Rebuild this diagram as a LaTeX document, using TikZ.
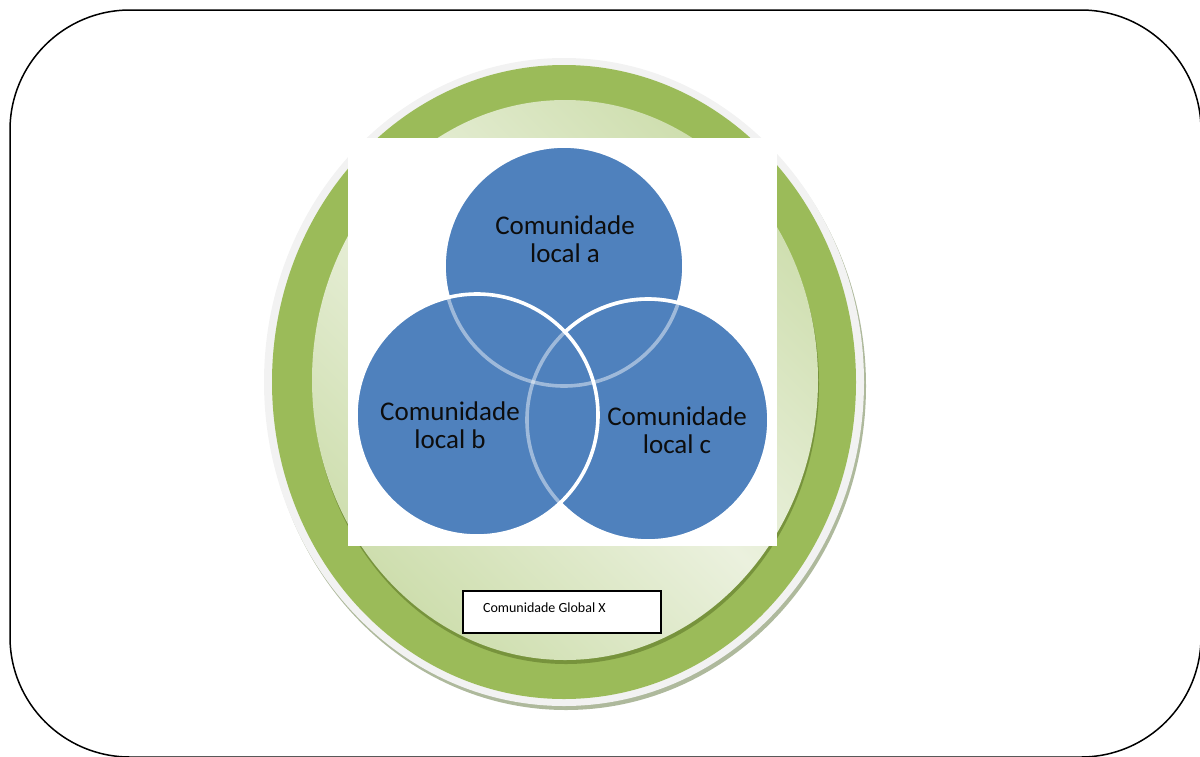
\documentclass[tikz,border=0pt]{standalone}
\usepackage{fontspec}
\setmainfont{Carlito}
\usepackage{tikz}

\definecolor{vennblue}{HTML}{4F81BD}
\definecolor{ringgreen}{HTML}{9BBB59}
\definecolor{rimgray}{HTML}{F2F2F2}
\definecolor{rimshadow}{HTML}{AEB99C}
\definecolor{edgegreen}{HTML}{77933C}
\definecolor{innerlight}{HTML}{EBF1DE}
\definecolor{innerdark}{HTML}{CEDEAE}

\tikzset{
  venn/.style={fill=vennblue,draw=white,line width=1.8pt},
  vennline/.style={draw=white,draw opacity=0.45,line width=1.8pt},
  vennlabel/.style={align=center,font=\fontsize{13.5}{14}\selectfont,text=black!95},
  globalbox/.style={draw,line width=0.8pt,fill=white,minimum width=99pt,minimum height=21pt,anchor=north west}
}

\begin{document}
\begin{tikzpicture}[x=0.5pt,y=-0.5pt]
  \useasboundingbox (0,0) rectangle (1200,756);
  \draw[line width=0.75pt,rounded corners=60pt] (10,10) rectangle (1201,757);
  % ring
  \fill[rimshadow] (566,386) ellipse [x radius=150pt,y radius=162pt];
  \fill[rimgray] (564,382) ellipse [x radius=150pt,y radius=162pt];
  \fill[ringgreen] (564,382) ellipse [x radius=146pt,y radius=158.5pt];
  \fill[edgegreen] (566,384) ellipse [x radius=126.5pt,y radius=140pt];
  \shade[top color=innerdark,bottom color=innerdark,middle color=innerlight,shading angle=-45]
    (565,380) ellipse [x radius=126.5pt,y radius=140pt];
  % venn
  \fill[white] (348,138) rectangle (777,546);
  \path[venn] (564,266) circle [radius=60pt];
  \path[venn] (648,420) circle [radius=60.5pt];
  \path[venn] (477,415) circle [radius=60.5pt];
  \path[vennline] (564,266) circle [radius=60pt];
  \path[vennline] (648,420) circle [radius=60.5pt];
  \node[vennlabel] (local-a) at (565,239) {Comunidade\\local a};
  \node[vennlabel] (local-b) at (450,425) {Comunidade\\local b};
  \node[vennlabel] (local-c) at (677,430) {Comunidade\\local c};
  \node[globalbox] (global) at (462,590) {};
  \node[anchor=west,font=\fontsize{7}{8}\selectfont] (global-text) at (476,608) {Comunidade Global X};
\end{tikzpicture}
\end{document}
